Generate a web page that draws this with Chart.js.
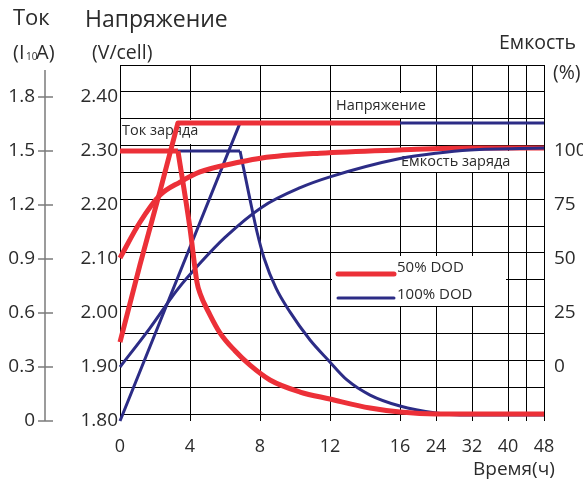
<!DOCTYPE html>
<html>
<head>
<meta charset="utf-8">
<script src="https://cdn.jsdelivr.net/npm/chart.js@4.4.1/dist/chart.umd.min.js"></script>
<style>
  html, body { margin: 0; background: #fff; }
  canvas { display: block; }
</style>
</head>
<body>
<canvas id="chart" width="583" height="484"></canvas>
<script>
// tick values
const HOUR_TICKS = [0, 4, 8, 12, 16, 24, 32, 40, 44, 48];
const VOLT_TICKS = [1.8, 1.9, 2.0, 2.1, 2.2, 2.3, 2.4];
const CURR_TICKS = [0, 0.3, 0.6, 0.9, 1.2, 1.5, 1.8];
const CAP_TICKS = [0, 25, 50, 75, 100];

// 50% DOD
const hV50 = [0, 1.14, 2.29, 3.31, 16];
const volt50 = [1.946, 2.089, 2.226, 2.352, 2.352];
const hI50cc = [0, 3.31];
const curr50cc = [1.5, 1.5];
const hI50 = [3.31, 4.0, 4.4, 4.57, 5.14, 5.71, 6.57, 7.43, 8.57, 10.29, 12, 14.29, 16, 24, 48];
const curr50 = [1.5, 1.07, 0.77, 0.71, 0.59, 0.49, 0.39, 0.31, 0.228, 0.161, 0.122, 0.072, 0.05, 0.039, 0.039];
const hC50 = [0, 1.14, 2.29, 3.43, 4.57, 6.86, 8.11, 11.43, 16, 31.6, 48];
const cap50 = [50.5, 67, 79.6, 85.6, 90.3, 94.9, 96.8, 99, 100.5, 101.4, 101.4];

// 100% DOD
const hV100 = [0, 6.86, 48];
const volt100 = [1.80, 2.352, 2.352];
const hI100cc = [0, 6.86];
const curr100cc = [1.5, 1.5];
const hI100 = [6.86, 7.43, 7.83, 8.23, 8.91, 9.71, 10.86, 11.89, 12.97, 14.29, 16, 24, 29.3, 48];
const curr100 = [1.5, 1.23, 1.05, 0.906, 0.739, 0.606, 0.45, 0.339, 0.228, 0.144, 0.083, 0.044, 0.033, 0.033];
const hC100 = [0, 1.71, 3.26, 4.57, 6.0, 8.11, 10.3, 12, 16, 24, 31.6, 48];
const cap100 = [0, 18, 35.6, 48, 60, 74, 83, 88, 96.5, 99, 100.5, 101.4];

const RED = 'rgb(236, 48, 56)';
const BLUE = 'rgb(44, 44, 134)';
const TEXT = '#2b2b2b';
const FONT = 'Open Sans';

// time axis: 0-16 h stretched, 16-48 h compressed
function hourFrac(h) {
  const u = h <= 16 ? h * 17.5 : 280 + (h - 16) * 4.5;
  return u / 424;
}

class HourScale extends Chart.LinearScale {
  buildTicks() {
    return HOUR_TICKS.map(v => ({ value: v }));
  }
  getPixelForValue(v) {
    return this.getPixelForDecimal(hourFrac(v));
  }
  getValueForPixel(p) {
    const u = this.getDecimalForPixel(p) * 424;
    return u <= 280 ? u / 17.5 : 16 + (u - 280) / 4.5;
  }
}
HourScale.id = 'hours';
HourScale.defaults = {};
Chart.register(HourScale);

function series(hs, vs) {
  return hs.map((h, i) => ({ x: h, y: vs[i] }));
}

function line(label, data, axis, color, width, order, smooth) {
  return {
    label: label,
    data: data,
    yAxisID: axis,
    borderColor: color,
    borderWidth: width,
    pointRadius: 0,
    cubicInterpolationMode: smooth ? 'monotone' : 'default',
    tension: 0,
    borderJoinStyle: 'round',
    fill: false,
    order: order,
    clip: { left: 4, top: 4, right: 4, bottom: 12 }
  };
}

function text(ctx, str, x, y, size, align) {
  ctx.font = size + 'px "' + FONT + '"';
  ctx.fillStyle = TEXT;
  ctx.textAlign = align || 'left';
  ctx.textBaseline = 'middle';
  ctx.fillText(str, x, y);
}

function boxedText(ctx, str, x, y, size, box) {
  ctx.fillStyle = '#fff';
  ctx.fillRect(box[0], box[1], box[2], box[3]);
  text(ctx, str, x, y, size);
}

const decor = {
  id: 'decor',
  beforeDatasetsDraw(chart) {
    const ctx = chart.ctx;
    ctx.save();
    boxedText(ctx, 'Напряжение', 336, 106, 14.5, [333, 93, 95, 25]);
    boxedText(ctx, 'Ток заряда', 122, 131, 14.5, [121, 120, 77, 24]);
    boxedText(ctx, 'Емкость заряда', 401, 162, 14.5, [399, 151, 123, 21]);
    // legend
    ctx.fillStyle = '#fff';
    ctx.fillRect(332, 256, 174, 50);
    ctx.lineCap = 'round';
    ctx.strokeStyle = RED; ctx.lineWidth = 5;
    ctx.beginPath(); ctx.moveTo(338, 274); ctx.lineTo(394, 274); ctx.stroke();
    ctx.strokeStyle = BLUE; ctx.lineWidth = 3;
    ctx.beginPath(); ctx.moveTo(338, 298); ctx.lineTo(394, 298); ctx.stroke();
    text(ctx, '50% DOD', 397, 268, 15);
    text(ctx, '100% DOD', 397, 295, 15);
    ctx.restore();
  },
  afterDraw(chart) {
    const ctx = chart.ctx;
    const yI = chart.scales.yI;
    ctx.save();
    // current axis on the far left
    ctx.strokeStyle = '#7a7a7a';
    ctx.lineWidth = 1.5;
    ctx.beginPath();
    ctx.moveTo(45, 70);
    ctx.lineTo(45, yI.getPixelForValue(0));
    ctx.stroke();
    CURR_TICKS.forEach(v => {
      const y = yI.getPixelForValue(v);
      ctx.beginPath(); ctx.moveTo(38, y); ctx.lineTo(53, y); ctx.stroke();
      text(ctx, String(v), 35, y, 19, 'right');
    });
    // axis titles
    text(ctx, 'Ток', 13, 19, 22);
    text(ctx, '(I', 13, 53, 20);
    ctx.font = '10px "' + FONT + '"';
    ctx.fillText('10', 26, 57);
    text(ctx, 'A)', 36, 53, 20);
    text(ctx, 'Напряжение', 85, 20, 23);
    text(ctx, '(V/cell)', 92, 53, 19.5);
    text(ctx, 'Емкость', 499, 43, 19.5);
    text(ctx, '(%)', 553, 73, 19.5);
    text(ctx, 'Время(ч)', 473, 470, 19);
    ctx.restore();
  }
};

const tickFont = { family: FONT, size: 19 };

new Chart(document.getElementById('chart'), {
  type: 'line',
  data: {
    datasets: [
      line('50% DOD ток', series(hI50, curr50), 'yI', RED, 5, 1, true),
      line('50% DOD ток (пост.)', series(hI50cc, curr50cc), 'yI', RED, 5, 1, false),
      line('50% DOD напряжение', series(hV50, volt50), 'yV', RED, 5, 2, false),
      line('100% DOD емкость', series(hC100, cap100), 'yC', BLUE, 3, 3, true),
      line('50% DOD емкость', series(hC50, cap50), 'yC', RED, 5, 4, true),
      line('100% DOD ток', series(hI100, curr100), 'yI', BLUE, 3, 5, true),
      line('100% DOD ток (пост.)', series(hI100cc, curr100cc), 'yI', BLUE, 3, 5, false),
      line('100% DOD напряжение', series(hV100, volt100), 'yV', BLUE, 3, 6, false)
    ]
  },
  options: {
    responsive: false,
    animation: false,
    events: [],
    layout: { padding: { top: 65 } },
    plugins: { legend: { display: false }, tooltip: { enabled: false } },
    scales: {
      x: {
        type: 'hours',
        min: 0,
        max: 48,
        grid: { color: '#000', tickLength: 7, tickColor: '#000' },
        border: { color: '#000' },
        ticks: {
          autoSkip: false, maxRotation: 0, padding: 15,
          font: { family: FONT, size: 18 }, color: TEXT,
          callback: v => (v === 44 ? '' : String(v))
        },
        afterFit: s => { s.height = 70; }
      },
      yGrid: {
        type: 'linear', position: 'left', min: 1.8, max: 2.45,
        ticks: { display: false, stepSize: 0.05 },
        grid: { color: '#000', drawTicks: false },
        border: { color: '#000' },
        afterFit: s => { s.width = 0; }
      },
      yV: {
        type: 'linear', position: 'left',
        min: 1.8 + 7 / 540, max: 1.8 + 356 / 540,
        afterBuildTicks: s => { s.ticks = VOLT_TICKS.map(v => ({ value: v })); },
        ticks: { autoSkip: false, padding: 2, font: tickFont, color: TEXT, callback: v => v.toFixed(2) },
        grid: { display: false, drawTicks: false },
        border: { display: false },
        afterFit: s => { s.width = 120; }
      },
      yI: { type: 'linear', display: false, min: 7 / 180, max: 356 / 180 },
      yC: {
        type: 'linear', position: 'right',
        min: -47 / 2.16, max: 302 / 2.16,
        afterBuildTicks: s => { s.ticks = CAP_TICKS.map(v => ({ value: v })); },
        ticks: { autoSkip: false, padding: 10, font: tickFont, color: TEXT },
        grid: { display: false, drawTicks: false },
        border: { display: false },
        afterFit: s => { s.width = 39; }
      }
    }
  },
  plugins: [decor]
});
</script>
</body>
</html>
